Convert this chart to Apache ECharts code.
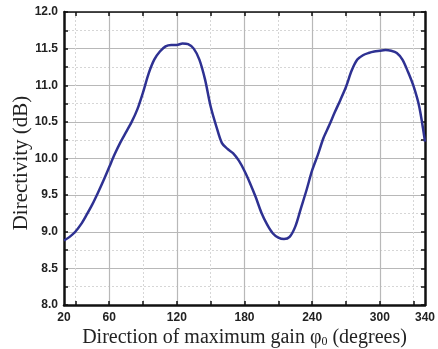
<!DOCTYPE html>
<html>
<head>
<meta charset="utf-8">
<script src="https://cdn.jsdelivr.net/npm/echarts@6/dist/echarts.min.js"></script>
<style>
  html, body { margin: 0; padding: 0; background: #fff; }
  #chart { width: 438px; height: 349px; }
</style>
</head>
<body>
<div id="chart"></div>
<script>
// direction of maximum gain (degrees)
const angles = [20, 25, 30, 35, 40, 45, 50, 55, 60, 65, 70, 75, 80, 85, 90, 95, 100, 105, 110, 115,
  120, 125, 130, 135, 140, 145, 150, 155, 160, 165, 170, 175, 180, 185, 190, 195, 200, 205, 210, 215,
  220, 225, 230, 235, 240, 245, 250, 255, 260, 265, 270, 275, 280, 285, 290, 295, 300, 305, 310, 315,
  320, 325, 330, 335, 340];
// directivity (dB)
const directivity = [8.88, 8.93, 9.0, 9.1, 9.23, 9.37, 9.53, 9.7, 9.88, 10.06, 10.22, 10.36, 10.5, 10.67, 10.9, 11.16, 11.35, 11.46, 11.53, 11.55,
  11.55, 11.57, 11.56, 11.5, 11.35, 11.08, 10.71, 10.44, 10.21, 10.13, 10.07, 9.97, 9.83, 9.66, 9.47, 9.26, 9.1, 8.98, 8.92, 8.9,
  8.93, 9.07, 9.32, 9.57, 9.84, 10.05, 10.28, 10.45, 10.63, 10.8, 10.98, 11.2, 11.35, 11.41, 11.44, 11.46, 11.47, 11.48, 11.47, 11.44,
  11.35, 11.18, 10.98, 10.7, 10.23];

const xLabels = [20, 60, 120, 180, 240, 300, 340];
const xTicks = [30, 60, 90, 120, 150, 180, 210, 240, 270, 300, 330];
const xMajorGrid = [60, 120, 180, 240, 300];
const xMinorGrid = [30, 90, 150, 210, 270, 330];

const labelFont = { fontFamily: "Liberation Sans", fontWeight: "bold", fontSize: 12, color: "#222" };
const nameFont = { fontFamily: "Liberation Serif", fontSize: 20, color: "#222" };

const chart = echarts.init(document.getElementById("chart"));

const hiddenX = (values, lineStyle) => ({
  type: "value", min: 20, max: 340, position: "bottom",
  axisLine: { show: false }, axisLabel: { show: false },
  axisTick: { show: false, customValues: values },
  splitLine: { show: true, lineStyle: lineStyle },
});

const option = {
  animation: false,
  grid: { left: 64, right: 13, top: 12, bottom: 44, outerBoundsMode: "none" },
  xAxis: [
    {
      type: "value", min: 20, max: 340, position: "bottom",
      name: "Direction of maximum gain φ{sub|0} (degrees)",
      nameLocation: "middle", nameGap: 22, nameMoveOverlap: false,
      nameTextStyle: Object.assign({}, nameFont, {
        rich: { sub: { fontFamily: "Liberation Serif", fontSize: 12, color: "#222", padding: [9, 0, 0, 0] } },
      }),
      axisLine: { lineStyle: { color: "#111", width: 2.5 } },
      axisTick: { inside: true, length: 4, customValues: xTicks, lineStyle: { color: "#111", width: 1.5 } },
      axisLabel: Object.assign({ customValues: xLabels, margin: 7, showMinLabel: true, showMaxLabel: true }, labelFont),
      splitLine: { show: false },
    },
    {
      type: "value", min: 20, max: 340, position: "top",
      axisLine: { lineStyle: { color: "#111", width: 1.5 } },
      axisTick: { inside: true, length: 4, customValues: xTicks, lineStyle: { color: "#111", width: 1.5 } },
      axisLabel: { show: false },
      splitLine: { show: false },
    },
    hiddenX(xMajorGrid, { color: "#b8b8b8", width: 1.2 }),
    hiddenX(xMinorGrid, { color: "#d6d6d6", width: 1, type: [2, 2] }),
  ],
  yAxis: [
    {
      type: "value", min: 8, max: 12, interval: 0.5, position: "left",
      name: "Directivity (dB)", nameLocation: "middle", nameGap: 32, nameRotate: 90, nameMoveOverlap: false,
      nameTextStyle: Object.assign({}, nameFont, { fontSize: 21, padding: [0, 9, 0, 0] }),
      axisLine: { show: true, lineStyle: { color: "#111", width: 2.5 } },
      axisTick: { inside: true, length: 4, lineStyle: { color: "#111", width: 1.5 } },
      minorTick: { show: true, splitNumber: 2, length: 4, lineStyle: { color: "#111", width: 1.5 } },
      axisLabel: Object.assign({ margin: 6, formatter: (v) => v.toFixed(1) }, labelFont),
      splitLine: { show: true, lineStyle: { color: "#b8b8b8", width: 1.2 } },
      minorSplitLine: { show: true, lineStyle: { color: "#d6d6d6", width: 1, type: [2, 2] } },
    },
    {
      type: "value", min: 8, max: 12, interval: 0.5, position: "right",
      axisLine: { show: true, lineStyle: { color: "#111", width: 2.5 } },
      axisTick: { inside: true, length: 4, lineStyle: { color: "#111", width: 1.5 } },
      minorTick: { show: true, splitNumber: 2, length: 4, lineStyle: { color: "#111", width: 1.5 } },
      axisLabel: { show: false },
      splitLine: { show: false },
    },
  ],
  series: [
    {
      type: "line",
      xAxisIndex: 0, yAxisIndex: 0,
      data: angles.map((a, i) => [a, directivity[i]]),
      smooth: 0.3,
      symbol: "none",
      lineStyle: { color: "#2e3192", width: 2.5 },
      z: 5,
    },
  ],
};

chart.setOption(option);
</script>
</body>
</html>
